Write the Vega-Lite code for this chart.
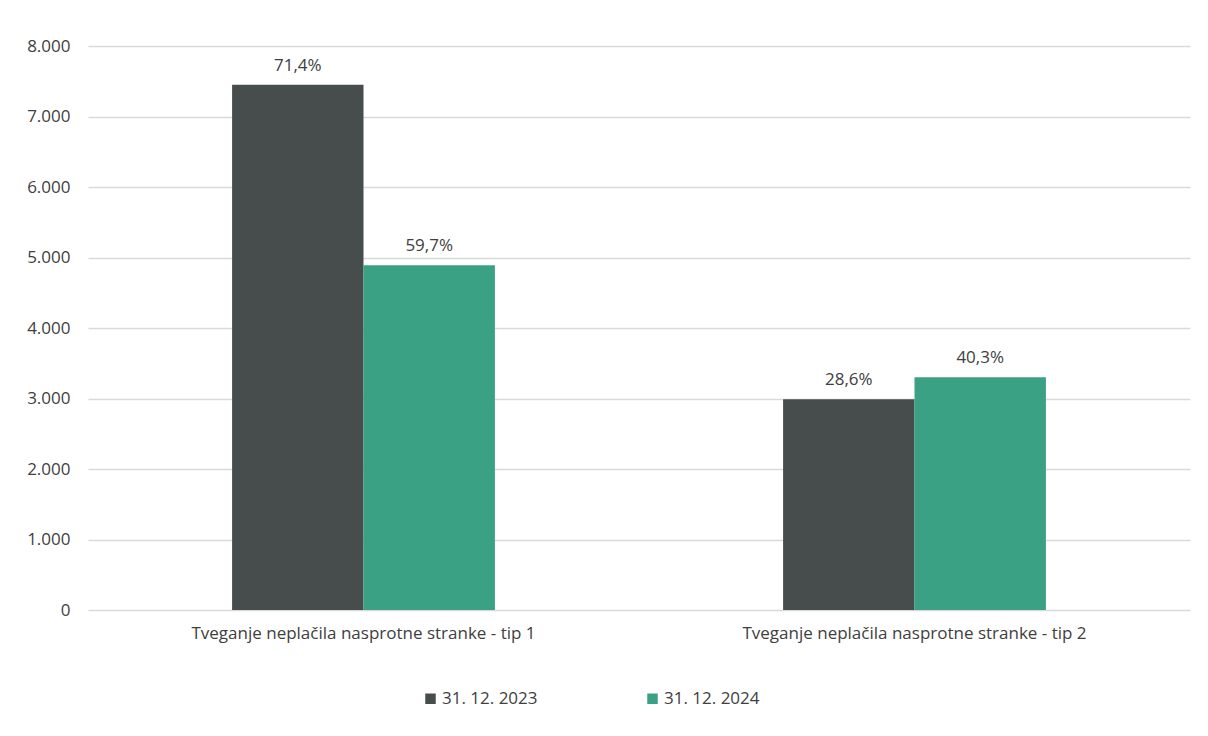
{
  "$schema": "https://vega.github.io/schema/vega-lite/v6.json",
  "width": 1102,
  "height": 564,
  "autosize": {"type": "none"},
  "padding": {"left": 88, "top": 46, "right": 18, "bottom": 126},
  "background": "white",
  "config": {
    "font": "Open Sans",
    "view": {"stroke": null},
    "locale": {"number": {"decimal": ",", "thousands": ".", "grouping": [3], "currency": ["", " €"]}}
  },
  "data": {
    "values": [
      {"category": "Tveganje neplačila nasprotne stranke - tip 1", "date": "31. 12. 2023", "value": 7450, "label": "71,4%"},
      {"category": "Tveganje neplačila nasprotne stranke - tip 1", "date": "31. 12. 2024", "value": 4890, "label": "59,7%"},
      {"category": "Tveganje neplačila nasprotne stranke - tip 2", "date": "31. 12. 2023", "value": 2990, "label": "28,6%"},
      {"category": "Tveganje neplačila nasprotne stranke - tip 2", "date": "31. 12. 2024", "value": 3300, "label": "40,3%"}
    ]
  },
  "encoding": {
    "x": {
      "field": "category", "type": "nominal", "title": null,
      "scale": {"paddingInner": 0.523, "paddingOuter": 0.2615},
      "axis": {"labelAngle": 0, "labelFontSize": 17, "labelColor": "#404040", "labelPadding": 15, "ticks": false, "domain": false, "labelLimit": 500}
    },
    "xOffset": {"field": "date", "type": "nominal", "scale": {"paddingInner": 0, "paddingOuter": 0}},
    "y": {
      "field": "value", "type": "quantitative", "title": null,
      "scale": {"domain": [0, 8000], "nice": false},
      "axis": {"values": [0, 1000, 2000, 3000, 4000, 5000, 6000, 7000, 8000], "format": ",.0f", "labelFontSize": 17, "labelColor": "#404040", "labelPadding": 18, "ticks": false, "domain": false, "gridColor": "#d9d9d9", "gridWidth": 1.3}
    }
  },
  "layer": [
    {
      "mark": {"type": "bar"},
      "encoding": {
        "color": {
          "field": "date", "type": "nominal",
          "scale": {"domain": ["31. 12. 2023", "31. 12. 2024"], "range": ["#474d4d", "#3ba184"]},
          "legend": {
            "title": null, "orient": "none", "direction": "horizontal",
            "legendX": 334, "legendY": 644,
            "symbolType": "square", "symbolSize": 110, "symbolStrokeWidth": 0,
            "labelFontSize": 17, "labelColor": "#404040", "labelOffset": 3,
            "columnPadding": 106
          }
        }
      }
    },
    {
      "mark": {"type": "text", "baseline": "bottom", "dy": -10, "fontSize": 17, "color": "#404040"},
      "encoding": {"text": {"field": "label"}}
    }
  ]
}
